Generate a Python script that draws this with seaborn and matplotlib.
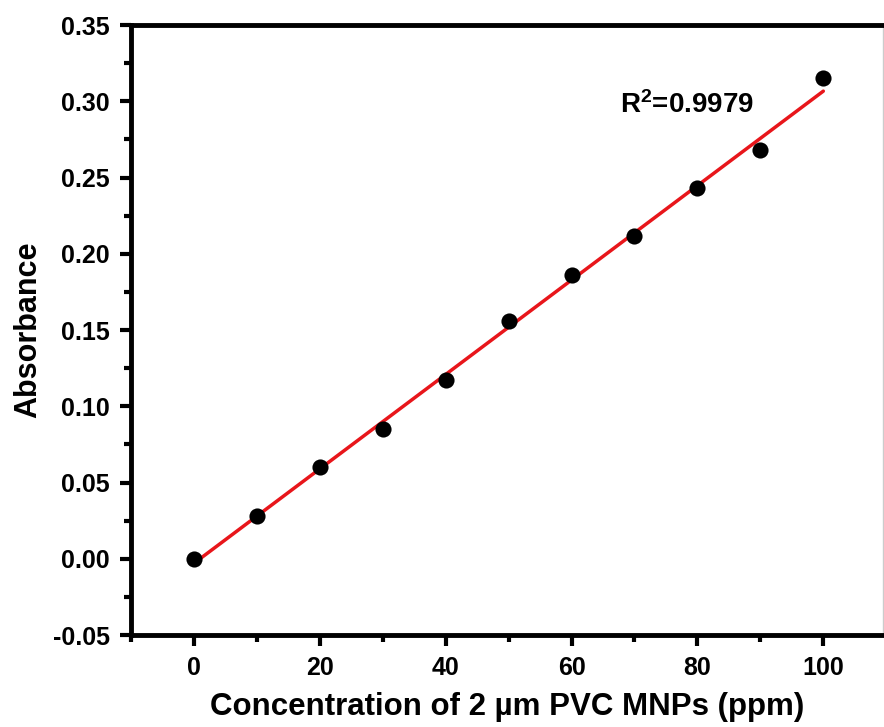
import numpy as np
import pandas as pd
import matplotlib
matplotlib.use("Agg")
import matplotlib.pyplot as plt
import seaborn as sns
from matplotlib.ticker import MultipleLocator

conc = [0, 10, 20, 30, 40, 50, 60, 70, 80, 90, 100]
absorbance = [0.000, 0.028, 0.060, 0.085, 0.117, 0.156, 0.186, 0.212, 0.243, 0.268, 0.315]
r2_text = "R$^{2}$=0.9979"

df = pd.DataFrame({"conc": conc, "abs": absorbance})

sns.set_style("ticks")
plt.rcParams['font.family'] = ['Liberation Sans', 'DejaVu Sans']
plt.rcParams['font.weight'] = 'bold'
plt.rcParams['text.color'] = 'black'
plt.rcParams['axes.labelcolor'] = 'black'
plt.rcParams['xtick.color'] = 'black'
plt.rcParams['ytick.color'] = 'black'
plt.rcParams['mathtext.fontset'] = 'custom'
plt.rcParams['mathtext.rm'] = 'Liberation Sans:bold'
plt.rcParams['mathtext.default'] = 'rm'

fig = plt.figure(figsize=(8.84, 7.27), dpi=100)
ax = fig.add_axes([0.148, 0.1265, 0.851, 0.839])

sns.regplot(data=df, x="conc", y="abs", scatter=False, ci=None, truncate=True,
            color="#e8161b", line_kws={"lw": 2.5, "color": "#e8161b"}, ax=ax)
sns.scatterplot(data=df, x="conc", y="abs", s=135, color="black", edgecolor="black",
                linewidth=0, ax=ax, zorder=3)

ax.set_xlim(-10, 109.5)
ax.set_ylim(-0.05, 0.35)
ax.xaxis.set_major_locator(MultipleLocator(20))
ax.xaxis.set_minor_locator(MultipleLocator(10))
ax.yaxis.set_major_locator(MultipleLocator(0.05))
ax.yaxis.set_minor_locator(MultipleLocator(0.025))
ax.yaxis.set_major_formatter(matplotlib.ticker.FormatStrFormatter('%.2f'))

ax.tick_params(which='major', direction='out', length=8, width=3, labelsize=18, pad=7,
               colors='black')
ax.tick_params(which='minor', direction='out', length=5, width=3, colors='black')
for lab in ax.get_xticklabels() + ax.get_yticklabels():
    lab.set_fontweight('bold')

for s in ['left', 'bottom', 'top']:
    ax.spines[s].set_linewidth(3.5)
    ax.spines[s].set_color('black')
ax.spines['right'].set_linewidth(1)
ax.spines['right'].set_color('#cccccc')
ax.spines['right'].set_visible(True)
ax.spines['top'].set_visible(True)

ax.set_xlabel("Concentration of 2 µm PVC MNPs (ppm)", fontsize=22.5, fontweight='bold',
              labelpad=9, color='black')
ax.set_ylabel("Absorbance", fontsize=22, fontweight='bold', labelpad=7, color='black')

ax.text(0.65, 0.869, r2_text, transform=ax.transAxes, fontsize=20, fontweight='bold',
        ha='left', va='center', color='black')

fig.savefig("out.png", dpi=100)
